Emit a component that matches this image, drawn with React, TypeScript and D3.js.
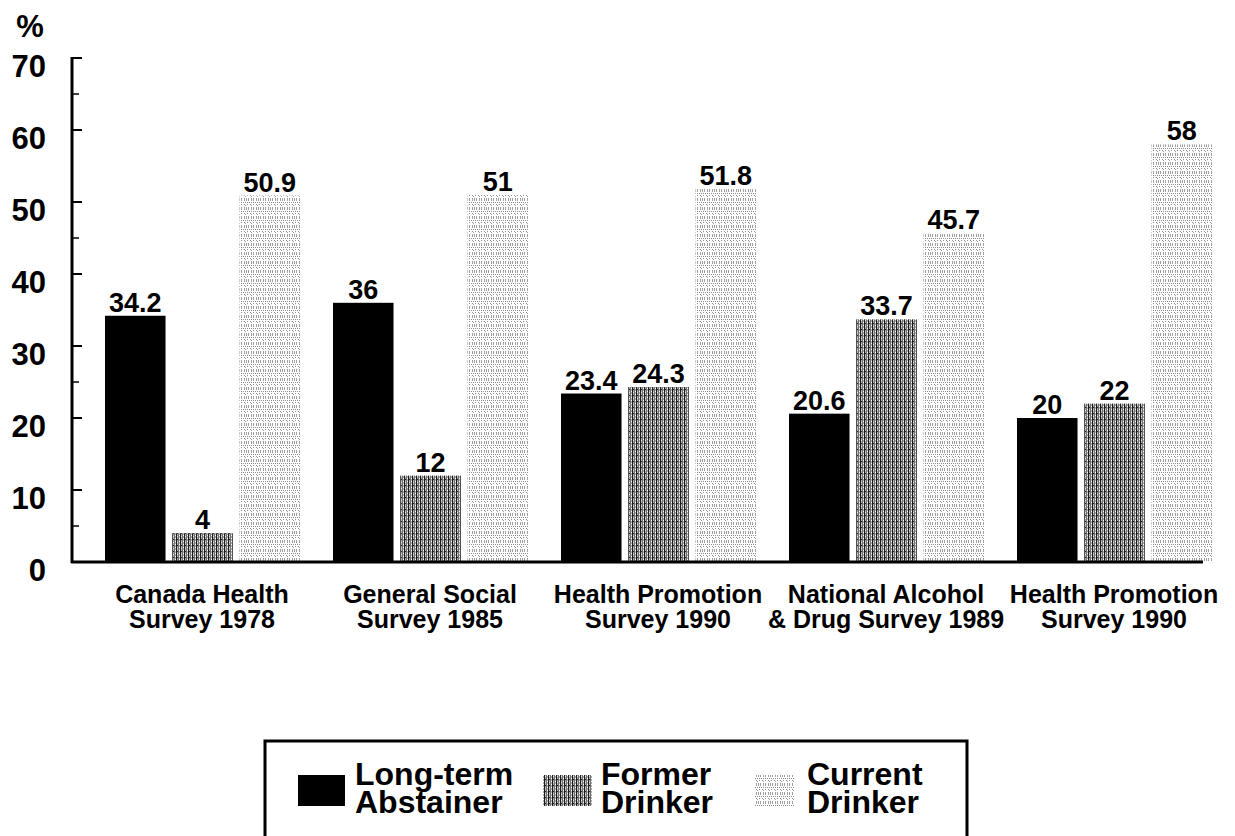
import React from "react";
import * as d3 from "d3";

// Survey names (two lines each) and the three drinking-status series
const categories = [
  ["Canada Health", "Survey 1978"],
  ["General Social", "Survey 1985"],
  ["Health Promotion", "Survey 1990"],
  ["National Alcohol", "& Drug Survey 1989"],
  ["Health Promotion", "Survey 1990"],
];
const seriesNames = ["Long-term Abstainer", "Former Drinker", "Current Drinker"];
const longTermAbstainer = [34.2, 36, 23.4, 20.6, 20];
const formerDrinker = [4, 12, 24.3, 33.7, 22];
const currentDrinker = [50.9, 51, 51.8, 45.7, 58];
const yTicks = [0, 10, 20, 30, 40, 50, 60, 70];
const yMinorTicks = [5, 25, 45, 65];

const legendLines = [
  ["Long-term", "Abstainer"],
  ["Former", "Drinker"],
  ["Current", "Drinker"],
];

const FONT = "'Liberation Sans', Arial, Helvetica, sans-serif";

export default function App() {
  const W = 1235;
  const H = 836;
  const axisX = 72;
  const baseY = 562;

  const catKeys = categories.map((_, i) => String(i));
  const x0 = d3.scaleBand<string>().domain(catKeys).range([88, 1228]);
  const x1 = d3
    .scaleBand<string>()
    .domain(seriesNames)
    .range([17, 212])
    .paddingInner(0.1);
  const y = d3.scaleLinear().domain([0, 70]).range([baseY, 58]);

  const seriesValues = [longTermAbstainer, formerDrinker, currentDrinker];
  const fills = ["#000", "url(#pat-former)", "url(#pat-current)"];

  const legendSwatch = [
    { x: 298, w: 47 },
    { x: 543, w: 49 },
    { x: 754, w: 40 },
  ];
  const legendText = [355, 601, 807];

  // dot positions for the light "current drinker" texture
  const dashXs = [0, 2, 4, 7, 9];
  const dotRow1 = [1, 3, 5, 7, 9, 11];
  const dotRow2 = [0, 3, 6, 9];

  return (
    <svg
      width={W}
      height={H}
      style={{ position: "absolute", left: 0, top: 0, background: "#fff" }}
      fontFamily={FONT}
      fontWeight="bold"
    >
      <defs>
        <pattern id="pat-former" patternUnits="userSpaceOnUse" width={4} height={6}>
          <rect width={4} height={6} fill="#ababab" />
          <rect x={0} y={0} width={1} height={6} fill="#1a1a1a" />
          <rect x={2} y={0} width={1} height={6} fill="#707070" />
          <rect x={3} y={1} width={1} height={1} fill="#fff" />
          <rect x={3} y={4} width={1} height={1} fill="#fff" />
          <rect x={1} y={2} width={1} height={1} fill="#e0e0e0" />
          <rect x={1} y={5} width={1} height={1} fill="#222" />
        </pattern>
        <pattern id="pat-current" patternUnits="userSpaceOnUse" width={12} height={9}>
          <rect width={12} height={9} fill="#fff" />
          {dashXs.map((dx) => (
            <rect key={"d" + dx} x={dx} y={0} width={1} height={3} fill="#a0a0a0" />
          ))}
          {dotRow1.map((dx) => (
            <rect key={"a" + dx} x={dx} y={4} width={1} height={1} fill="#8c8c8c" />
          ))}
          {dotRow2.map((dx) => (
            <rect key={"b" + dx} x={dx} y={6} width={1} height={1} fill="#8c8c8c" />
          ))}
          <rect x={1} y={7} width={1} height={1} fill="#a0a0a0" />
          <rect x={7} y={7} width={1} height={1} fill="#a0a0a0" />
        </pattern>
      </defs>

      {/* y axis */}
      <text x={30} y={37} fontSize={31} textAnchor="middle">%</text>
      <line x1={axisX} x2={axisX} y1={y(70) - 1} y2={baseY + 1} stroke="#000" strokeWidth={3} />
      {yTicks.map((t) => (
        <g key={"t" + t}>
          <line x1={axisX} x2={axisX + 10} y1={y(t)} y2={y(t)} stroke="#000" strokeWidth={2} />
          <text x={46} y={y(t) + 19} fontSize={31} textAnchor="end">
            {t}
          </text>
        </g>
      ))}
      {yMinorTicks.map((t) => (
        <line key={"m" + t} x1={axisX} x2={axisX + 7} y1={y(t)} y2={y(t)} stroke="#000" strokeWidth={1.5} />
      ))}

      {/* bars */}
      {categories.map((_, ci) => (
        <g key={"c" + ci} transform={`translate(${x0(String(ci))},0)`}>
          {seriesNames.map((s, si) => {
            const v = seriesValues[si][ci];
            const bx = x1(s)!;
            const bw = x1.bandwidth();
            return (
              <g key={s}>
                <rect x={bx} y={y(v)} width={bw} height={baseY - y(v)} fill={fills[si]} />
                <text x={bx + bw / 2} y={y(v) - 4} fontSize={27} textAnchor="middle">
                  {v}
                </text>
              </g>
            );
          })}
        </g>
      ))}

      {/* x baseline */}
      <line x1={axisX - 1} x2={1203} y1={baseY} y2={baseY} stroke="#000" strokeWidth={3} />

      {/* category labels */}
      {categories.map((lines, ci) => {
        const cx = x0(String(ci))! + x0.bandwidth() / 2;
        return (
          <text key={"l" + ci} x={cx} fontSize={25} textAnchor="middle">
            <tspan x={cx} y={603}>{lines[0]}</tspan>
            <tspan x={cx} y={628}>{lines[1]}</tspan>
          </text>
        );
      })}

      {/* legend */}
      <rect x={265} y={741} width={702} height={110} fill="#fff" stroke="#000" strokeWidth={3} />
      {seriesNames.map((s, i) => (
        <g key={"lg" + s}>
          <rect x={legendSwatch[i].x} y={775} width={legendSwatch[i].w} height={31} fill={fills[i]} />
          <text x={legendText[i]} fontSize={32}>
            <tspan x={legendText[i]} y={785}>{legendLines[i][0]}</tspan>
            <tspan x={legendText[i]} y={813}>{legendLines[i][1]}</tspan>
          </text>
        </g>
      ))}
    </svg>
  );
}
